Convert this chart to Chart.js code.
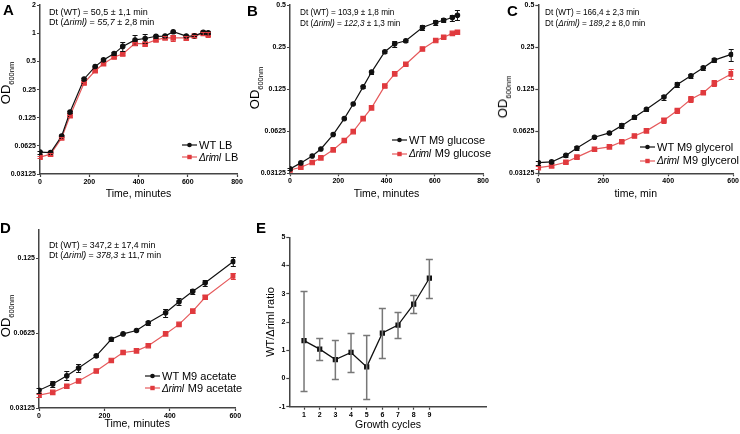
<!DOCTYPE html>
<html>
<head>
<meta charset="utf-8">
<script src="https://cdn.jsdelivr.net/npm/chart.js@4/dist/chart.umd.min.js"></script>
<style>
  body { margin: 0; background: #fff; font-family: Arial, "Liberation Sans", sans-serif; }
  #page { position: relative; width: 740px; height: 434px; overflow: hidden; }
  canvas { position: absolute; }
  .txt { position: absolute; white-space: nowrap; color: #000; }
  .letter { font-size: 15px; font-weight: bold; line-height: 1; }
  .dt { font-size: 9px; line-height: 10.4px; }
  .ytitle { font-size: 13px; transform: translate(-50%, -50%) rotate(-90deg); line-height: 1; }
  .ytitle sub { font-size: 7.5px; }
  .leg { font-size: 11px; line-height: 12px; display: flex; align-items: center; }
  .leg svg { margin-right: 2px; }
  .leg i { font-size: 10.2px; letter-spacing: -0.3px; margin-right: 1px; }
</style>
</head>
<body>
<div id="page">
  <canvas id="chartA" width="245" height="205" style="left:0;top:0"></canvas>
  <canvas id="chartB" width="245" height="205" style="left:245px;top:0"></canvas>
  <canvas id="chartC" width="250" height="205" style="left:490px;top:0"></canvas>
  <canvas id="chartD" width="245" height="224" style="left:0;top:210px"></canvas>
  <canvas id="chartE" width="245" height="224" style="left:250px;top:210px"></canvas>
  <div id="overlay"></div>
</div>
<script>
// growth curve A: LB
var timeA = [0, 43, 88, 122, 179, 224, 258, 301, 336, 386, 427, 471, 508, 541, 594, 627, 663, 683];
var wtA = [0.0536, 0.053, 0.0796, 0.144, 0.325, 0.441, 0.52, 0.607, 0.725, 0.85, 0.88, 0.93, 0.935, 1.04, 0.935, 0.94, 1.025, 1.015];
var wtErrA = [0.002, 0.001, 0.002, 0.003, 0.008, 0.01, 0.01, 0.02, 0.08, 0.1, 0.1, 0.03, 0.02, 0.02, 0.03, 0.02, 0.03, 0.03];
var rimlA = [0.0474, 0.051, 0.076, 0.131, 0.294, 0.398, 0.473, 0.558, 0.60, 0.78, 0.77, 0.85, 0.895, 0.895, 0.895, 0.935, 1.0, 0.975];
var rimlErrA = [0.001, 0.001, 0.002, 0.003, 0.006, 0.01, 0.01, 0.01, 0.01, 0.03, 0.03, 0.03, 0.03, 0.06, 0.04, 0.02, 0.04, 0.06];

// growth curve B: M9 glucose
var timeB = [0, 45, 92, 128, 179, 225, 262, 303, 338, 393, 434, 480, 549, 604, 637, 673, 694];
var wtB = [0.0336, 0.0371, 0.0416, 0.0467, 0.0592, 0.077, 0.098, 0.130, 0.166, 0.232, 0.265, 0.278, 0.346, 0.376, 0.39, 0.408, 0.424];
var wtErrB = [0.0005, 0, 0, 0, 0, 0, 0, 0.002, 0.004, 0.003, 0.012, 0.004, 0.014, 0.013, 0.013, 0.02, 0.035];
var rimlB = [0.0330, 0.0345, 0.0373, 0.0403, 0.046, 0.0537, 0.0621, 0.077, 0.092, 0.132, 0.161, 0.189, 0.243, 0.279, 0.295, 0.314, 0.32];
var rimlErrB = [0, 0, 0, 0, 0, 0, 0, 0, 0, 0.002, 0.002, 0.002, 0.003, 0.003, 0.003, 0.003, 0.003];

// growth curve C: M9 glycerol
var timeC = [0, 41, 85, 119, 173, 219, 257, 296, 333, 387, 428, 470, 508, 542, 594];
var wtC = [0.0373, 0.0377, 0.042, 0.0474, 0.0566, 0.0608, 0.0686, 0.0787, 0.0899, 0.110, 0.135, 0.156, 0.178, 0.202, 0.222];
var wtErrC = [0.0012, 0.0008, 0.0008, 0.0015, 0.001, 0.001, 0.003, 0.0025, 0.002, 0.0045, 0.005, 0.005, 0.006, 0.007, 0.022];
var rimlC = [0.0343, 0.0353, 0.0375, 0.0408, 0.0465, 0.0483, 0.0526, 0.0578, 0.0629, 0.0749, 0.0879, 0.106, 0.118, 0.138, 0.161];
var rimlErrC = [0.0008, 0.0008, 0.0005, 0.0005, 0.0005, 0.0005, 0.0008, 0.0008, 0.001, 0.003, 0.003, 0.005, 0.002, 0.007, 0.014];

// growth curve D: M9 acetate
var timeD = [0, 42, 85, 121, 175, 221, 257, 298, 334, 387, 428, 470, 508, 594];
var wtD = [0.0368, 0.039, 0.0421, 0.0452, 0.0506, 0.059, 0.062, 0.064, 0.0687, 0.0754, 0.0834, 0.092, 0.0994, 0.121];
var wtErrD = [0.0008, 0.0012, 0.0018, 0.0017, 0.0003, 0.001, 0.0003, 0.0003, 0.0012, 0.003, 0.0026, 0.002, 0.0026, 0.005];
var rimlD = [0.0352, 0.0361, 0.0382, 0.0401, 0.044, 0.0485, 0.0522, 0.053, 0.0556, 0.062, 0.0677, 0.0765, 0.087, 0.106];
var rimlErrD = [0.0005, 0, 0, 0, 0, 0, 0, 0, 0, 0, 0, 0.001, 0.0015, 0.003];

// E: ratio over growth cycles
var cycles = [1, 2, 3, 4, 5, 6, 7, 8, 9];
var ratioE = [1.34, 1.04, 0.67, 0.92, 0.41, 1.61, 1.89, 2.63, 3.55];
var ratioErrE = [1.77, 0.39, 0.68, 0.68, 1.12, 0.9, 0.45, 0.32, 0.69];

// tick labels
var odTicksA = [0.03125, 0.0625, 0.125, 0.25, 0.5, 1, 2];
var odTicksBC = [0.03125, 0.0625, 0.125, 0.25, 0.5];
var odTicksD = [0.03125, 0.0625, 0.125];
var timeTicks800 = [0, 200, 400, 600, 800];
var timeTicks600 = [0, 200, 400, 600];
var ratioTicks = [-1, 0, 1, 2, 3, 4, 5];

// legend names
var mediaNames = ['LB', 'M9 glucose', 'M9 glycerol', 'M9 acetate'];
var dtWT = ['50,5 \u00b1 1,1', '103,9 \u00b1 1,8', '166,4 \u00b1 2,3', '347,2 \u00b1 17,4'];
var dtRiml = [['55,7', '2,8'], ['122,3', '1,3'], ['189,2', '8,0'], ['378,3', '11,7']];

var WT_COLOR = '#111';
var RIML_COLOR = '#e03a3e';
var RIML_LINE = '#e65a5c';
var AXIS = '#444';

Chart.defaults.font.family = "Arial, 'Liberation Sans', sans-serif";
Chart.defaults.color = '#000';

// plugin to draw error bars from dataset.errors
var errorBars = {
  id: 'errorBars',
  afterDatasetsDraw: function(chart) {
    var ctx = chart.ctx;
    chart.data.datasets.forEach(function(ds, i) {
      if (!ds.errors) return;
      var meta = chart.getDatasetMeta(i);
      var yScale = chart.scales[meta.yAxisID];
      ctx.save();
      ctx.strokeStyle = ds.errorColor || ds.pointBackgroundColor;
      ctx.lineWidth = ds.errorWidth || 1;
      meta.data.forEach(function(pt, j) {
        var e = ds.errors[j];
        if (!e) return;
        var v = ds.data[j].y;
        var top = Math.round(yScale.getPixelForValue(v + e)) + 0.5;
        var bot = Math.round(yScale.getPixelForValue(v - e)) + 0.5;
        var x = pt.x, w = ds.capWidth || 2.5;
        ctx.beginPath();
        ctx.moveTo(x, top); ctx.lineTo(x, bot);
        ctx.moveTo(x - w, top); ctx.lineTo(x + w, top);
        ctx.moveTo(x - w, bot); ctx.lineTo(x + w, bot);
        ctx.stroke();
      });
      ctx.restore();
    });
  }
};

var points = function(xs, ys) {
  return xs.map(function(x, i) { return { x: x, y: ys[i] }; });
};

var tickList = function(list) {
  return function(scale) { scale.ticks = list.map(function(v) { return { value: v }; }); };
};

var axisGrid = { drawOnChartArea: false, tickLength: 3, color: AXIS, tickColor: AXIS, tickWidth: 1.2 };
var axisBorder = { color: AXIS, width: 1.5 };
var tickFont = { size: 7, weight: 'bold' };

// function to draw one growth curve panel
var growthChart = function(id, p) {
  return new Chart(document.getElementById(id), {
    type: 'line',
    data: {
      datasets: [{
        data: points(p.time, p.wt),
        errors: p.wtErr,
        borderColor: WT_COLOR,
        pointBackgroundColor: WT_COLOR,
        pointBorderColor: WT_COLOR,
        pointStyle: 'circle',
        pointRadius: 2.2,
        borderWidth: 1.2
      }, {
        data: points(p.time, p.riml),
        errors: p.rimlErr,
        borderColor: RIML_LINE,
        pointBackgroundColor: RIML_COLOR,
        pointBorderColor: RIML_COLOR,
        pointStyle: 'rect',
        pointRadius: 3.1,
        borderWidth: 1.2
      }]
    },
    options: {
      responsive: false,
      animation: false,
      devicePixelRatio: 1,
      layout: { padding: { top: p.top, right: p.right, left: 0, bottom: 0 } },
      plugins: { legend: { display: false }, tooltip: { enabled: false } },
      scales: {
        x: {
          type: 'linear', min: 0, max: p.xTicks[p.xTicks.length - 1],
          afterBuildTicks: tickList(p.xTicks),
          afterFit: function(s) { s.height = p.xH; },
          grid: axisGrid, border: axisBorder,
          ticks: { font: tickFont, padding: 1, maxRotation: 0, autoSkip: false },
          title: { display: true, text: p.xTitle, font: { size: 10.5 }, padding: { top: 0, bottom: p.titlePad } }
        },
        y: {
          type: 'logarithmic', min: p.yTicks[0], max: p.yMax,
          afterBuildTicks: tickList(p.yTicks),
          afterFit: function(s) { s.width = p.yW; },
          grid: axisGrid, border: axisBorder,
          ticks: { font: tickFont, padding: 1, autoSkip: false, callback: function(v) { return String(v); } }
        }
      }
    },
    plugins: [errorBars]
  });
};

growthChart('chartA', { time: timeA, wt: wtA, wtErr: wtErrA, riml: rimlA, rimlErr: rimlErrA,
  yTicks: odTicksA, yMax: 2, xTicks: timeTicks800, xTitle: 'Time, minutes',
  top: 5, right: 8, yW: 40, xH: 31, titlePad: 4.5 });
growthChart('chartB', { time: timeB, wt: wtB, wtErr: wtErrB, riml: rimlB, rimlErr: rimlErrB,
  yTicks: odTicksBC, yMax: 0.5, xTicks: timeTicks800, xTitle: 'Time, minutes',
  top: 5, right: 7, yW: 45, xH: 31.7, titlePad: 4.5 });
growthChart('chartC', { time: timeC, wt: wtC, wtErr: wtErrC, riml: rimlC, rimlErr: rimlErrC,
  yTicks: odTicksBC, yMax: 0.5, xTicks: timeTicks600, xTitle: 'time, min',
  top: 5, right: 5.7, yW: 48.3, xH: 31.7, titlePad: 4.5 });
growthChart('chartD', { time: timeD, wt: wtD, wtErr: wtErrD, riml: rimlD, rimlErr: rimlErrD,
  yTicks: odTicksD, yMax: 0.162, xTicks: timeTicks600, xTitle: 'Time, minutes',
  top: 20, right: 9.7, yW: 39, xH: 26, titlePad: 3.5 });

// ratio panel E
new Chart(document.getElementById('chartE'), {
  type: 'line',
  data: {
    datasets: [{
      data: points(cycles, ratioE),
      errors: ratioErrE,
      errorColor: '#777',
      errorWidth: 1.5,
      capWidth: 3.5,
      borderColor: '#111',
      pointBackgroundColor: '#111',
      pointBorderColor: '#111',
      pointStyle: 'rect',
      pointRadius: 2.8,
      borderWidth: 1.3
    }]
  },
  options: {
    responsive: false,
    animation: false,
    devicePixelRatio: 1,
    layout: { padding: { top: 27.3, right: 8.3, left: 0, bottom: 0 } },
    plugins: { legend: { display: false }, tooltip: { enabled: false } },
    scales: {
      x: {
        type: 'linear', min: 0.06, max: 12.66,
        afterBuildTicks: tickList(cycles),
        afterFit: function(s) { s.height = 27.3; },
        grid: axisGrid, border: axisBorder,
        ticks: { font: tickFont, padding: 1, maxRotation: 0, autoSkip: false },
        title: { display: true, text: 'Growth cycles', font: { size: 10.5 }, padding: { top: 0, bottom: 2.5 } }
      },
      y: {
        type: 'linear', min: -1, max: 5,
        afterBuildTicks: tickList(ratioTicks),
        afterFit: function(s) { s.width = 39.3; },
        grid: axisGrid, border: axisBorder,
        ticks: { font: tickFont, padding: 1, autoSkip: false },
        title: { display: true, text: 'WT/\u0394riml ratio', font: { size: 11 }, padding: { top: 14, bottom: 0 } }
      }
    }
  },
  plugins: [errorBars]
});

// text overlays: panel letters, doubling times, y titles, legends
var overlay = document.getElementById('overlay');
var addText = function(cls, x, y, html) {
  var d = document.createElement('div');
  d.className = 'txt ' + cls;
  d.style.left = x + 'px';
  d.style.top = y + 'px';
  d.innerHTML = html;
  overlay.appendChild(d);
};

var letters = [['A', 3, 2], ['B', 247, 3], ['C', 507, 3], ['D', 0, 220], ['E', 256, 220]];
letters.forEach(function(l) { addText('letter', l[1], l[2], l[0]); });

var dtPos = [[49, 7, 9], [300, 7, 8.2], [545, 7, 8.2], [49, 240, 8.8]];
dtPos.forEach(function(p, i) {
  addText('dt', p[0], p[1], '<span style="font-size:' + p[2] + 'px">Dt (WT) = ' + dtWT[i] + ' min<br>' +
    'Dt (<i>\u0394riml)</i> = <i>' + dtRiml[i][0] + '</i> \u00b1 ' + dtRiml[i][1] + ' min</span>');
});

var yTitlePos = [[7, 83], [256, 88], [504, 97], [7, 316]];
yTitlePos.forEach(function(p) { addText('ytitle', p[0], p[1], 'OD<sub>600nm</sub>'); });

var icon = function(color, shape) {
  var mark = shape === 'circle'
    ? '<circle cx="7.5" cy="4" r="2.3" fill="' + color + '"/>'
    : '<rect x="5.3" y="1.8" width="4.4" height="4.4" fill="' + color + '"/>';
  return '<svg width="15" height="8"><line x1="0" y1="4" x2="15" y2="4" stroke="' +
    (shape === 'circle' ? color : RIML_LINE) + '" stroke-width="1.2"/>' + mark + '</svg>';
};

var legendPos = [[182, 145, 11.7], [392, 140, 13.3], [640, 146.7, 13.3], [145, 375.7, 12]];
legendPos.forEach(function(p, i) {
  addText('leg', p[0], p[1] - 6, icon(WT_COLOR, 'circle') + '<span>WT ' + mediaNames[i] + '</span>');
  addText('leg', p[0], p[1] + p[2] - 6, icon(RIML_COLOR, 'rect') + '<span><i>\u0394riml</i> ' + mediaNames[i] + '</span>');
});
</script>
</body>
</html>
